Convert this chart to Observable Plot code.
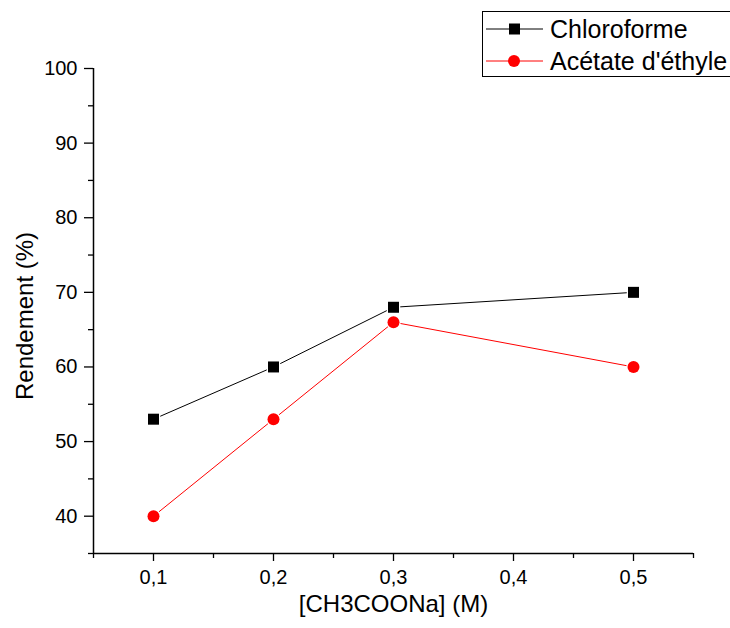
<!DOCTYPE html>
<html>
<head>
<meta charset="utf-8">
<script src="https://cdn.jsdelivr.net/npm/d3@7"></script>
<script src="https://cdn.jsdelivr.net/npm/@observablehq/plot@0.6"></script>
<style>
  body { margin: 0; background: #fff; font-family: "Liberation Sans", Arial, sans-serif; }
  #wrap { position: relative; width: 730px; height: 628px; overflow: hidden; }
  #legend { position: absolute; left: 482px; top: 11px; width: 260px; height: 66px; border: 1px solid #000; box-sizing: border-box; background: #fff; }
</style>
</head>
<body>
<div id="wrap">
  <div id="chart"></div>
  <div id="legend"></div>
</div>
<script>
const concentrations = [0.1, 0.2, 0.3, 0.5];
const chloroforme = [53, 60, 68, 70];
const acetate = [40, 53, 66, 60];
const seriesNames = ["Chloroforme", "Acétate d'éthyle"];
const seriesColors = ["#000000", "#ff0000"];
const xMajorTicks = [0.1, 0.2, 0.3, 0.4, 0.5];
const xMinorTicks = [0.05, 0.15, 0.25, 0.35, 0.45, 0.55];
const yMajorTicks = [40, 50, 60, 70, 80, 90, 100];
const yMinorTicks = [35, 45, 55, 65, 75, 85, 95];

const chl = concentrations.map((c, i) => ({x: c, y: chloroforme[i]}));
const ace = concentrations.map((c, i) => ({x: c, y: acetate[i]}));
const fmt = d => String(d).replace(".", ",");
const FONT = "'Liberation Sans', Arial, sans-serif";

const plot = Plot.plot({
  width: 730,
  height: 628,
  marginLeft: 93,
  marginRight: 37,
  marginTop: 68,
  marginBottom: 75,
  style: {fontFamily: FONT, background: "#fff", overflow: "visible", color: "#000"},
  x: {domain: [0.05, 0.55]},
  y: {domain: [35, 100]},
  marks: [
    Plot.line(chl, {x: "x", y: "y", stroke: seriesColors[0], strokeWidth: 1}),
    Plot.line(ace, {x: "x", y: "y", stroke: seriesColors[1], strokeWidth: 1}),
    Plot.dot(chl, {x: "x", y: "y", symbol: "square", r: 6.2, fill: seriesColors[0], stroke: "white", strokeWidth: 2.5, paintOrder: "stroke"}),
    Plot.dot(ace, {x: "x", y: "y", symbol: "circle", r: 6, fill: seriesColors[1], stroke: "white", strokeWidth: 2.5, paintOrder: "stroke"}),
    Plot.axisY({ticks: yMajorTicks, tickSize: 9, tickPadding: 7, fontSize: 20, tickFormat: d => d, label: null, strokeWidth: 1.3}),
    Plot.axisY({ticks: yMinorTicks, tickSize: 5, text: null, label: null, strokeWidth: 1.3}),
    Plot.axisX({ticks: xMajorTicks, tickSize: 8, tickPadding: 8, fontSize: 20, tickFormat: fmt, label: null, strokeWidth: 1.3}),
    Plot.axisX({ticks: xMinorTicks, tickSize: 5, text: null, label: null, strokeWidth: 1.3}),
    Plot.ruleX([0.05], {strokeWidth: 1.5}),
    Plot.ruleY([35], {strokeWidth: 1.5}),
    Plot.text(["[CH3COONa] (M)"], {frameAnchor: "bottom", dy: 58, fontSize: 24, fill: "#000"}),
    Plot.text(["Rendement (%)"], {frameAnchor: "left", textAnchor: "middle", dx: -68, dy: 5, rotate: -90, fontSize: 24, fill: "#000"})
  ]
});
document.getElementById("chart").appendChild(plot);

// Legend
const lg = d3.select("#legend").append("svg").attr("width", 260).attr("height", 66);
const rows = [{y: 17, sym: "square"}, {y: 49, sym: "circle"}];
rows.forEach((r, i) => {
  lg.append("line").attr("x1", 3).attr("x2", 60).attr("y1", r.y).attr("y2", r.y).attr("stroke", seriesColors[i]).attr("stroke-width", 1);
  if (r.sym === "square") {
    lg.append("rect").attr("x", 26).attr("y", r.y - 5.5).attr("width", 11).attr("height", 11).attr("fill", seriesColors[i]);
  } else {
    lg.append("circle").attr("cx", 31).attr("cy", r.y).attr("r", 6).attr("fill", seriesColors[i]);
  }
  lg.append("text").attr("x", 67).attr("y", r.y + 9).attr("font-size", 25).attr("font-family", FONT).text(seriesNames[i]);
});
</script>
</body>
</html>
